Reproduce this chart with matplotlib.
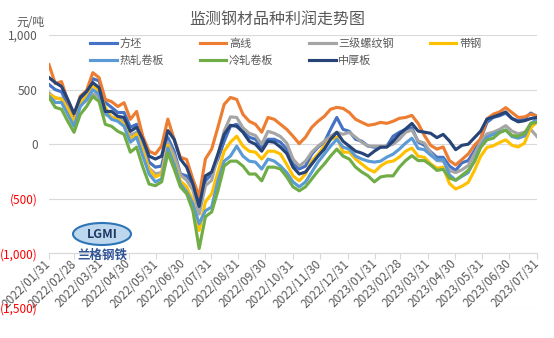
import numpy as np
import pandas as pd
import matplotlib
matplotlib.use('Agg')
import matplotlib.pyplot as plt
from matplotlib.patches import Ellipse

plt.rcParams['font.family'] = ['Noto Sans CJK SC', 'DejaVu Sans']

# weekly observations, 2022/01/31 .. 2023/07/31
dates = pd.date_range('2022-01-31', periods=79, freq='7D')

fangpi = [546, 500, 480, 364, 260, 410, 473, 600, 580, 382, 337, 290, 290, 155, 182, 18, -164, -210, -200, 60,
          -64, -273, -290, -365, -540, -336, -273, -136, 27, 164, 182, 118, 64, 45, -27, 45, 45, 18, -45,
          -182, -227, -200, -91, -27, 18, 136, 245, 136, 118, 45, 27, -18, -27, -27, -18, 73, 109,
          136, 150, 20, -10, -70, -120, -120, -200, -240, -170, -150, -60, 50, 200, 245, 260, 285, 235, 215, 235, 285, 255]
gaoxian = [728, 555, 573, 400, 270, 440, 490, 655, 610, 410, 390, 345, 380, 228, 300, 70, -65, -90, -15, 230,
           45, -120, -140, -320, -475, -135, -45, 155, 365, 428, 410, 273, 210, 182, 110, 245, 228, 182, 136,
           73, 5, 64, 155, 210, 255, 320, 337, 328, 290, 228, 200, 173, 182, 200, 191, 210, 237,
           245, 264, 190, 80, -10, -45, -25, -150, -190, -140, -90, -10, 50, 230, 275, 295, 335, 290, 245, 250, 275, 260]
luowen = [470, 420, 420, 330, 200, 360, 400, 460, 430, 270, 250, 230, 220, 80, 110, -40, -220, -270, -260, 20,
          -100, -280, -330, -420, -640, -380, -330, -100, 120, 250, 245, 150, 100, 80, 0, 118, 100, 70, 10,
          -136, -200, -155, -73, -18, 27, 73, 109, 91, 109, 64, 18, -18, -18, -18, -18, 0, 45,
          110, 130, 30, 10, -80, -150, -155, -240, -260, -235, -195, -90, 20, 95, 110, 135, 170, 120, 95, 110, 135, 70]
daigang = [455, 428, 410, 320, 200, 382, 437, 546, 482, 337, 245, 228, 182, 45, 91, -64, -227, -300, -273, -10,
           -164, -336, -390, -518, -790, -527, -455, -255, -64, 18, 73, -18, -64, -73, -136, -64, -64, -91, -185,
           -290, -336, -273, -155, -91, -18, 45, 64, -73, -73, -136, -182, -227, -255, -200, -164, -155, -118,
           -64, -35, -110, -120, -180, -220, -210, -360, -410, -385, -350, -240, -110, -30, -15, 15, 40, -10, -25, 10, 150, 205]
rejuan = [440, 382, 382, 273, 164, 345, 410, 500, 455, 290, 228, 210, 164, 18, 64, -109, -273, -345, -318, -35,
          -182, -365, -436, -545, -728, -610, -575, -336, -155, -109, -18, -109, -155, -164, -227, -136, -155, -200, -260,
          -345, -390, -345, -255, -164, -91, -18, 45, -27, -45, -109, -136, -155, -164, -155, -118, -91, -45,
          10, 55, -40, -50, -100, -145, -140, -280, -330, -295, -260, -150, -20, 65, 90, 110, 130, 70, 55, 75, 190, 228]
lengjuan = [428, 337, 320, 210, 109, 273, 345, 437, 392, 182, 164, 118, 91, -73, -27, -210, -365, -380, -345, -80,
            -227, -390, -455, -610, -955, -664, -620, -427, -200, -155, -155, -200, -273, -273, -336, -210, -210, -227, -300,
            -390, -427, -390, -318, -245, -182, -109, -45, -109, -136, -210, -255, -290, -345, -300, -290, -290, -210,
            -150, -105, -150, -150, -190, -240, -230, -310, -330, -285, -240, -160, -30, 40, 55, 105, 130, 80, 73, 100, 190, 200]
zhonghou = [610, 564, 528, 410, 280, 428, 482, 564, 518, 300, 300, 255, 245, 118, 155, 45, -109, -136, -109, 125,
            45, -136, -210, -365, -570, -290, -255, -90, 90, 173, 164, 110, 27, 0, -64, 27, 18, -27, -85,
            -210, -273, -255, -182, -109, -45, 45, 109, 27, -18, -64, -82, -109, -64, -27, -27, 27, 91,
            140, 190, 120, 110, 100, 60, 90, 30, -50, -10, 0, 60, 120, 230, 250, 270, 295, 235, 205, 215, 235, 245]

names = ['方坯', '高线', '三级螺纹钢', '带钢', '热轧卷板', '冷轧卷板', '中厚板']
series = [fangpi, gaoxian, luowen, daigang, rejuan, lengjuan, zhonghou]
colors = ['#4472C4', '#ED7D31', '#A5A5A5', '#FFC000', '#5B9BD5', '#70AD47', '#264478']

yticks = [1000, 500, 0, -500, -1000, -1500]
xticks = pd.date_range('2022-01-31', '2023-07-31', freq='ME')

fig = plt.figure(figsize=(5.54, 3.38), dpi=100)
ax = fig.add_axes([49/554, 1-308/338, 488/554, 273/338])

lines = {}
for name, vals, c in zip(names, series, colors):
    lines[name], = ax.plot(dates, vals, color=c, lw=2.25, solid_joinstyle='round', label=name)

ax.set_xlim(pd.Timestamp('2022-01-31'), pd.Timestamp('2023-07-31'))
ax.set_ylim(-1500, 1000)

ax.set_yticks(yticks, labels=['{:,}'.format(v) if v >= 0 else '({:,})'.format(-v) for v in yticks])
ax.tick_params(axis='y', length=0, pad=8, labelsize=8.5)

ax.set_xticks(xticks, labels=[d.strftime('%Y/%m/%d') for d in xticks])
ax.tick_params(axis='x', length=4, color='#D9D9D9', labelsize=8.5, labelcolor='#595959', pad=2)

ax.yaxis.grid(True, color='#D9D9D9', lw=0.8)
ax.set_axisbelow(True)
for s in ['top', 'right', 'left']:
    ax.spines[s].set_visible(False)
ax.spines['bottom'].set_position(('data', -1000))
ax.spines['bottom'].set_color('#D9D9D9')
ax.spines['bottom'].set_linewidth(0.8)

# legend, Excel order row by row
order = ['方坯', '热轧卷板', '高线', '冷轧卷板', '三级螺纹钢', '中厚板', '带钢']
fig.legend([lines[n] for n in order], order, ncol=4, loc='upper left',
           bbox_to_anchor=(90/554, 1-38/338), frameon=False, fontsize=8,
           handlelength=2.4, handletextpad=0.25, columnspacing=3.2,
           labelspacing=0.6, borderpad=0, borderaxespad=0, labelcolor='#595959')

fig.text(0.5, 1-20/338, '监测钢材品种利润走势图', ha='center', va='center', fontsize=11.5, color='#595959')
fig.text(30/554, 1-22/338, '元/吨', ha='center', va='center', fontsize=8.5, color='#595959')

# watermark logo
fig.add_artist(Ellipse((102/554, 1-234/338), 58/554, 22/338, transform=fig.transFigure,
                       facecolor='#BDD7EE', edgecolor='#2E75B6', lw=1.5))
fig.text(102/554, 1-234/338, 'LGMI', ha='center', va='center', fontsize=9,
         color='#1F3864', fontweight='bold', style='italic')
fig.text(102/554, 1-255/338, '兰格钢铁', ha='center', va='center', fontsize=9,
         color='#2F5597', fontweight='bold')

# style tick labels after the ticks are built
fig.canvas.draw()
for lab in ax.get_yticklabels():
    lab.set_color('#FF0000' if lab.get_text().startswith('(') else '#595959')
for lab in ax.get_xticklabels():
    lab.set_rotation(45)
    lab.set_horizontalalignment('right')
    lab.set_verticalalignment('center')
    lab.set_rotation_mode('anchor')

fig.savefig('out.png', dpi=100)
